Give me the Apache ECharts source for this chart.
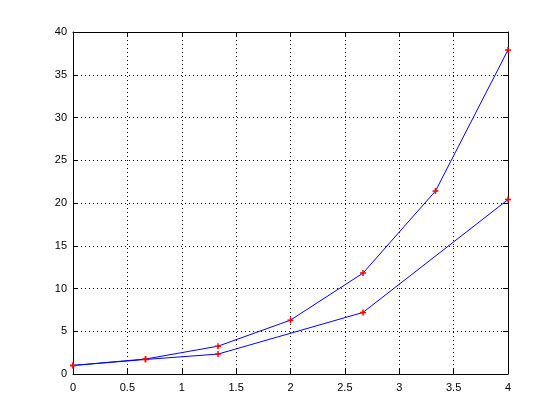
<!DOCTYPE html>
<html><head><meta charset="utf-8">
<script src="https://cdn.jsdelivr.net/npm/echarts@6/dist/echarts.min.js"></script>
<style>html,body{margin:0;padding:0;background:#fff}#c{width:560px;height:420px}</style>
</head><body><div id="c"></div>
<script>
const x1 = [0, 0.6667, 1.3333, 2, 2.6667, 3.3333, 4];
const y1 = [1, 1.75, 3.25, 6.3, 11.8, 21.4, 37.9];
const x2 = [0, 0.6667, 1.3333, 2.6667, 4];
const y2 = [1, 1.7, 2.33, 7.2, 20.4];
const xTicks = [0, 0.5, 1, 1.5, 2, 2.5, 3, 3.5, 4];
const yTicks = [0, 5, 10, 15, 20, 25, 30, 35, 40];

const chart = echarts.init(document.getElementById('c'), null, {renderer: 'canvas'});
const font = {fontFamily: 'Liberation Sans, Arial, sans-serif', fontSize: 11, color: '#000'};
const star = 'path://M-1,-4L1,-4L1,-1L4,-1L4,1L1,1L1,4L-1,4L-1,1L-4,1L-4,-1L-1,-1Z';
function mk(xs, ys) { return xs.map((x, i) => [x, ys[i]]); }
function ser(xs, ys) {
  return {
    type: 'line', data: mk(xs, ys), symbol: star, symbolSize: 6,
    itemStyle: {color: '#ff0000'}, lineStyle: {color: '#0000ff', width: 1},
    animation: false, z: 3
  };
}
function axisCommon() {
  return {
    axisLine: {show: true, onZero: false, lineStyle: {color: '#000', width: 1}},
    axisTick: {show: true, inside: true, length: 5, lineStyle: {color: '#000'}},
  };
}
chart.setOption({
  animation: false,
  grid: {left: 73, right: 52, top: 32, bottom: 46, show: false},
  xAxis: [
    Object.assign({type: 'value', min: 0, max: 4, interval: 0.5, position: 'bottom',
      axisLabel: Object.assign({margin: 8}, font),
      splitLine: {show: true, lineStyle: {color: '#000', type: [1, 3], width: 1}}}, axisCommon()),
    Object.assign({type: 'value', min: 0, max: 4, interval: 0.5, position: 'top',
      axisLabel: {show: false}, splitLine: {show: false}}, axisCommon())
  ],
  yAxis: [
    Object.assign({type: 'value', min: 0, max: 40, interval: 5, position: 'left',
      axisLabel: Object.assign({margin: 6}, font),
      splitLine: {show: true, lineStyle: {color: '#000', type: [1, 3], width: 1}}}, axisCommon()),
    Object.assign({type: 'value', min: 0, max: 40, interval: 5, position: 'right',
      axisLabel: {show: false}, splitLine: {show: false}}, axisCommon())
  ],
  series: [ser(x1, y1), ser(x2, y2)]
});
</script></body></html>
